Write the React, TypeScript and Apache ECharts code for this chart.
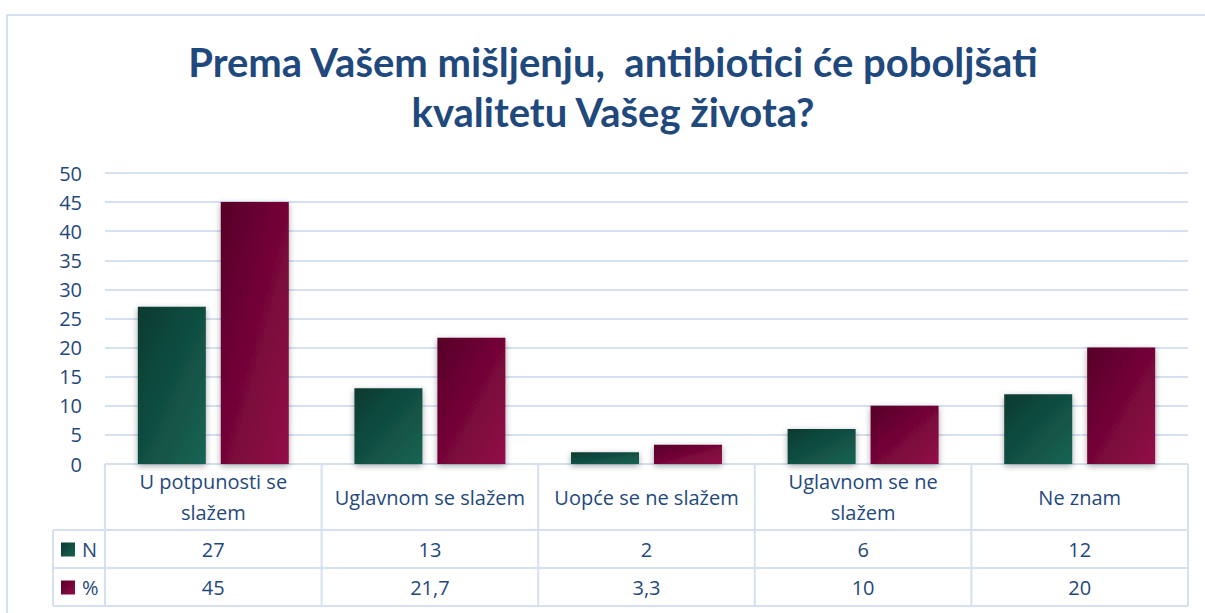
import React, { useEffect, useRef } from "react";
import * as echarts from "echarts";

const titleText = "Prema Vašem mišljenju,  antibiotici će poboljšati\nkvalitetu Vašeg života?";
const categories = ["U potpunosti se\nslažem", "Uglavnom se slažem", "Uopće se ne slažem", "Uglavnom se ne\nslažem", "Ne znam"];
const seriesNames = ["N", "%"];
const nValues = [27, 13, 2, 6, 12];
const pctValues = [45, 21.7, 3.3, 10, 20];
const nLabels = ["27", "13", "2", "6", "12"];
const pctLabels = ["45", "21,7", "3,3", "10", "20"];
const yMin = 0;
const yMax = 50;
const yInterval = 5;

const W = 1205;
const H = 613;
const GL = 105;
const GR = 1188;
const GT = 173;
const GB = 464;
const ROW1 = 530;
const ROW2 = 568;
const ROW3 = 606;
const LEFTCOL = 53;
const TEXT = "#1f497d";
const LINE = "#d5e0f1";
const FONT = "'Open Sans', 'Noto Sans', sans-serif";
const TFONT = "Lato, 'Open Sans', sans-serif";

const greenGrad = new echarts.graphic.LinearGradient(0, 0, 1, 1, [
  { offset: 0, color: "#0a3a31" },
  { offset: 1, color: "#186454" },
]);
const maroonGrad = new echarts.graphic.LinearGradient(0, 0, 1, 1, [
  { offset: 0, color: "#560028" },
  { offset: 1, color: "#930c48" },
]);

export default function App() {
  const ref = useRef<HTMLDivElement>(null);
  useEffect(() => {
    document.body.style.margin = "0";
    const chart = echarts.init(ref.current!, null, { renderer: "svg" });
    const colW = (GR - GL) / categories.length;
    const lines: any[] = [];
    const ln = (x1: number, y1: number, x2: number, y2: number) =>
      lines.push({ type: "line", shape: { x1, y1, x2, y2 }, style: { stroke: LINE, lineWidth: 2 }, silent: true });
    ln(GL, GB, GR, GB);
    ln(LEFTCOL, ROW1, GR, ROW1);
    ln(LEFTCOL, ROW2, GR, ROW2);
    ln(LEFTCOL, ROW3, GR, ROW3);
    ln(LEFTCOL, ROW1, LEFTCOL, ROW3);
    for (let i = 0; i <= categories.length; i++) {
      const x = GL + i * colW;
      ln(x, GB, x, ROW3);
    }
    const shadow = { shadowBlur: 6, shadowColor: "rgba(0,0,0,0.35)", shadowOffsetY: 2 };
    const labelStyle = (margin: number) => ({
      interval: 0,
      margin,
      verticalAlign: "middle",
      color: TEXT,
      fontSize: 20,
      fontFamily: FONT,
      lineHeight: 31,
    });
    const hiddenAxis = (data: string[], margin: number) => ({
      type: "category",
      gridIndex: 0,
      position: "bottom",
      data,
      axisLine: { show: false },
      axisTick: { show: false },
      splitLine: { show: false },
      axisLabel: labelStyle(margin),
    });
    chart.setOption({
      animation: false,
      title: {
        text: titleText,
        left: 613,
        textAlign: "center",
        top: 37,
        padding: 0,
        textStyle: {
          color: TEXT,
          fontSize: 40,
          fontWeight: "bold",
          fontFamily: TFONT,
          lineHeight: 50,
        },
      },
      legend: {
        orient: "vertical",
        left: 61,
        top: 537,
        padding: 0,
        itemWidth: 14,
        itemHeight: 14,
        itemGap: 13,
        itemStyle: { shadowBlur: 0 },
        icon: "rect",
        data: seriesNames,
        textStyle: { color: TEXT, fontSize: 20, fontFamily: FONT, lineHeight: 20, padding: [0, 0, 5, 2] },
      },
      grid: { left: GL, right: W - GR, top: GT, bottom: H - GB, containLabel: false },
      xAxis: [
        {
          type: "category",
          data: categories,
          axisLine: { show: false },
          axisTick: { show: false },
          axisLabel: labelStyle(33),
        },
        hiddenAxis(nLabels, 85),
        hiddenAxis(pctLabels, 123),
      ],
      yAxis: {
        type: "value",
        min: yMin,
        max: yMax,
        interval: yInterval,
        axisLine: { show: false },
        axisTick: { show: false },
        axisLabel: { color: TEXT, fontSize: 20, fontFamily: FONT, margin: 23 },
        splitLine: { lineStyle: { color: LINE, width: 2 } },
      },
      series: [
        {
          name: seriesNames[0],
          type: "bar",
          data: nValues,
          barWidth: 68,
          barGap: "22%",
          itemStyle: { color: greenGrad, ...shadow },
        },
        {
          name: seriesNames[1],
          type: "bar",
          data: pctValues,
          barWidth: 68,
          barGap: "22%",
          itemStyle: { color: maroonGrad, ...shadow },
        },
      ],
      graphic: [
        {
          type: "rect",
          shape: { x: 7, y: 15, width: 1220, height: 620 },
          style: { fill: "none", stroke: LINE, lineWidth: 2 },
          silent: true,
          z: -10,
        },
        ...lines,
      ],
    });
    return () => chart.dispose();
  }, []);
  return <div ref={ref} style={{ width: W, height: H }} />;
}
